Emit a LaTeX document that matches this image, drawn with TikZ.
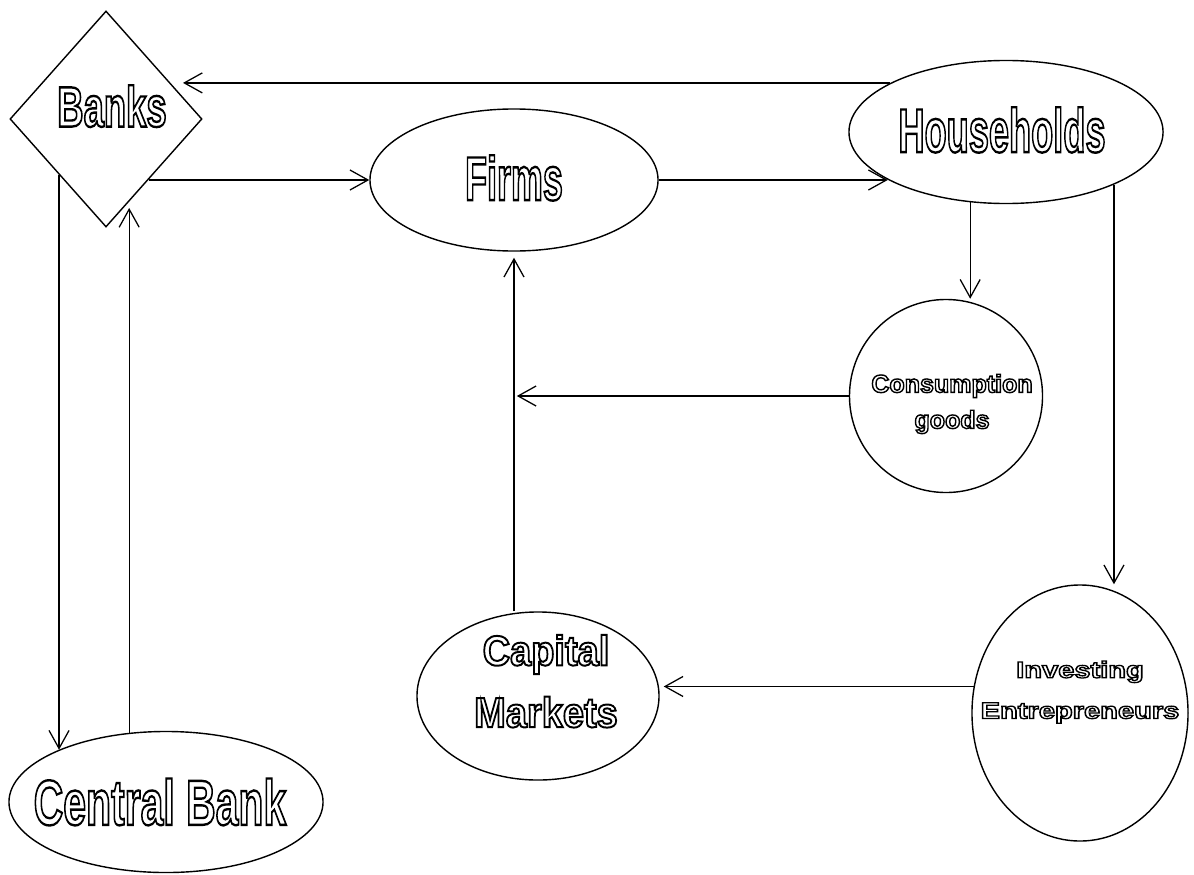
\documentclass[tikz,border=0pt]{standalone}
\usepackage{fontspec}
\setmainfont{Liberation Sans}
\usetikzlibrary{shapes.geometric,arrows.meta}

% outlined letters: stroke only, optional stroke width
\newcommand{\hollow}[3][1.7]{\scalebox{#2}[1]{\special{pdf:literal direct 1 Tr #1 w}#3\special{pdf:literal direct 0 Tr}}}

\begin{document}
\begin{tikzpicture}[x=0.025cm, y=-0.025cm,
  sector/.style={draw, line width=1pt, ellipse, inner sep=0pt},
  txt/.style={font=\bfseries},
  flow/.style={line width=0.9pt, -{Straight Barb[length=0.45cm,width=0.5cm]}}]
  \useasboundingbox (0,0) rectangle (1194,874);

  % Banking side
  \node[sector, diamond, minimum width=4.8cm, minimum height=5.4cm,
    label={[txt, xshift=0.15cm, yshift=0.32cm]center:{\fontsize{40.5}{40.5}\selectfont\hollow{0.64}{Banks}}}] (bk) at (106,119) {};
  \node[sector, minimum width=7.85cm, minimum height=3.525cm,
    label={[txt, xshift=-0.15cm]center:{\fontsize{45.5}{45.5}\selectfont\hollow{0.64}{Central Bank}}}] (cb) at (166,802) {};

  % Real side
  \node[sector, minimum width=7.2cm, minimum height=3.55cm,
    label={[txt, yshift=0.05cm]center:{\fontsize{44}{44}\selectfont\hollow{0.58}{Firms}}}] (fm) at (514,180) {};
  \node[sector, minimum width=7.85cm, minimum height=3.575cm,
    label={[txt, xshift=-0.1cm, yshift=0.05cm]center:{\fontsize{44}{44}\selectfont\hollow{0.585}{Households}}}] (hh) at (1006,132) {};
  \node[sector, minimum width=4.825cm, minimum height=4.825cm,
    label={[txt, align=center, xshift=0.15cm, yshift=-0.2cm, font=\bfseries\fontsize{17.8}{25.6}\selectfont]center:\hollow[1]{1}{Consumption}\\\hollow[1]{1}{goods}}] (cg) at (946,396) {};
  \node[sector, minimum width=5.4cm, minimum height=6.4cm,
    label={[txt, align=center, yshift=0.52cm, font=\bfseries\fontsize{16.4}{29}\selectfont]center:\hollow[0.9]{1.26}{Investing}\\\hollow[0.9]{1.26}{Entrepreneurs}}] (ie) at (1080,713) {};
  \node[sector, minimum width=6.05cm, minimum height=4.2cm,
    label={[txt, align=center, xshift=0.2cm, yshift=0.37cm, font=\bfseries\fontsize{30}{44}\selectfont]center:\hollow[1.4]{0.9}{Capital}\\\hollow[1.4]{0.9}{Markets}}] (cm) at (538,696) {};

  \coordinate (bkin) at (183,0);

  % Flows
  \draw[flow] (hh.157) -- (hh.157 -| bkin);
  \draw[flow] (bk.-55 |- fm.west) -- (fm.west);
  \draw[flow] (fm.east) -- (fm.east -| hh.202);
  \draw[flow] (hh.243) -- (hh.243 |- cg.north);
  \draw[flow] (hh.-26) -- (hh.-26 |- ie.north);
  \draw[flow, shorten >=0.07cm] (cg.west) -- (cg.west -| fm.south);
  \draw[flow, shorten >=0.15cm] (fm.south |- cm.north) -- (fm.south);
  \draw[flow, shorten >=0.1cm] (ie.166) -- (ie.166 -| cm.east);
  \draw[flow] (bk.-130) -- (bk.-130 |- cb.154);
  \draw[flow, shorten >=0.2cm] (cb.118) -- (cb.118 |- bk.-73);
\end{tikzpicture}
\end{document}
